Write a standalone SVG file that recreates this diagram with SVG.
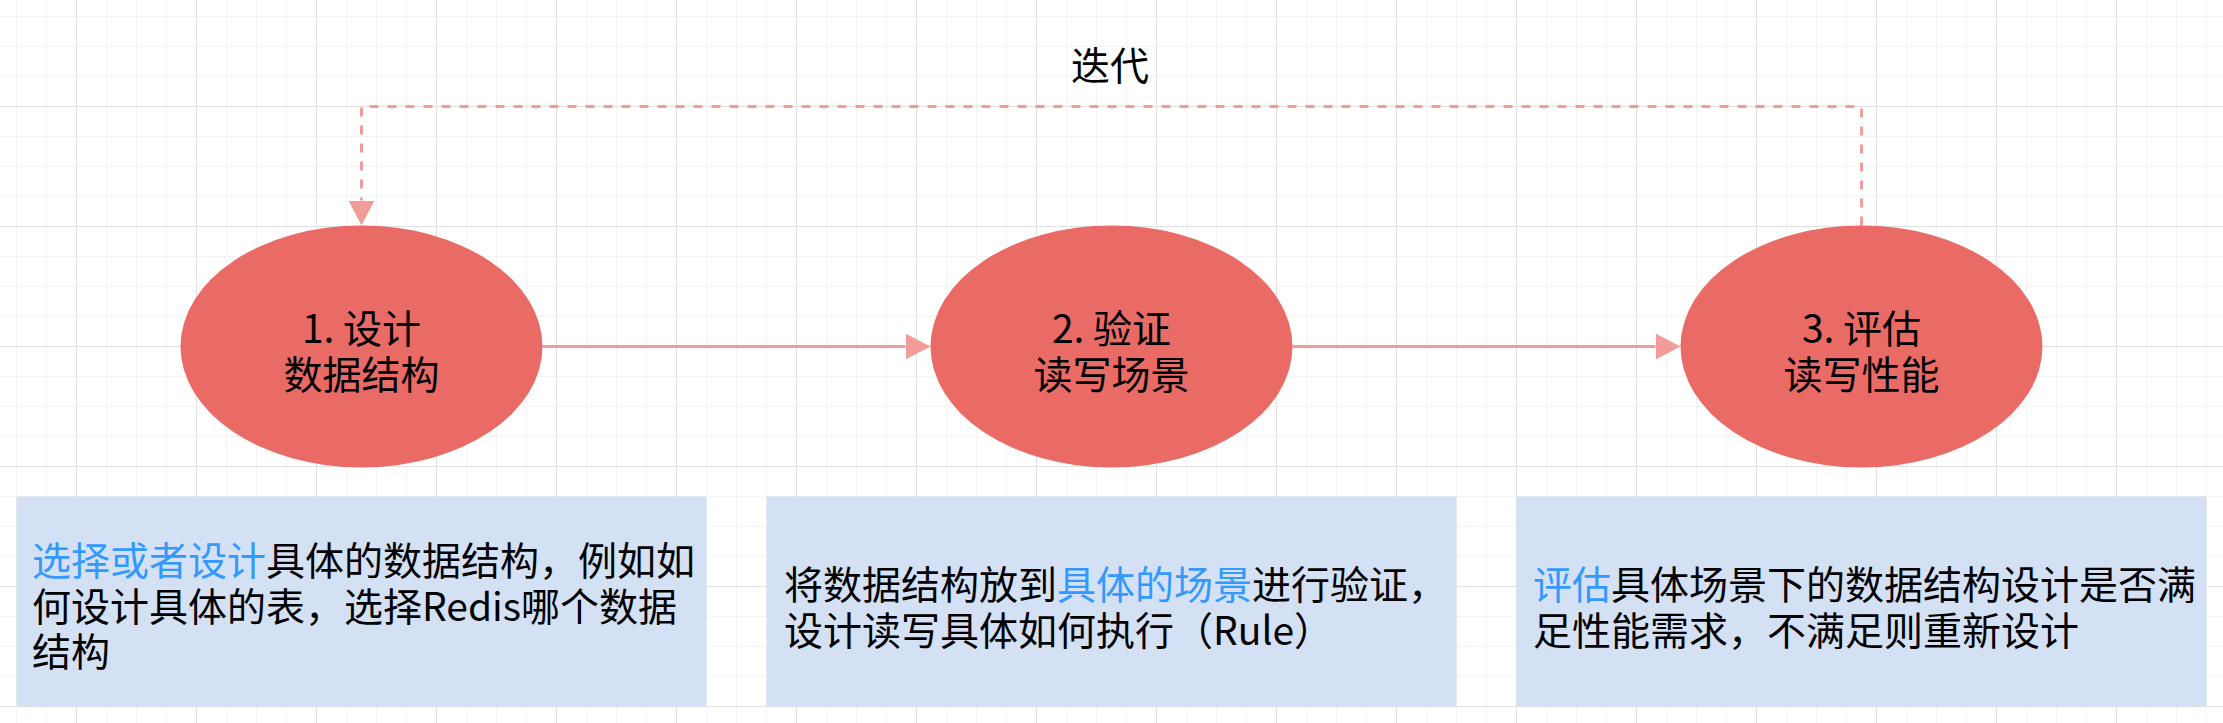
<svg xmlns="http://www.w3.org/2000/svg" width="2223" height="723" viewBox="0 0 2223 723">
  <style>
    .node { fill: #EA6B66; }
    .box { fill: #D4E1F5; }
    .t { font-family: "Microsoft YaHei", "Noto Sans CJK SC", "Noto Sans", sans-serif; font-size: 39px; fill: #000000; }
    .c { text-anchor: middle; }
    .hl { fill: #3399FF; }
    .edge { fill: none; stroke: #F19C99; stroke-width: 3; }
    .dash { stroke-dasharray: 9 9; }
  </style>
  <defs>
    <pattern id="grid" patternUnits="userSpaceOnUse" x="76" y="106" width="120" height="120">
      <rect x="30" y="0" width="1" height="120" fill="#F3F3F3"/>
      <rect x="60" y="0" width="1" height="120" fill="#F3F3F3"/>
      <rect x="90" y="0" width="1" height="120" fill="#F3F3F3"/>
      <rect x="0" y="30" width="120" height="1" fill="#F3F3F3"/>
      <rect x="0" y="60" width="120" height="1" fill="#F3F3F3"/>
      <rect x="0" y="90" width="120" height="1" fill="#F3F3F3"/>
      <rect x="0" y="0" width="1" height="120" fill="#E0E0E0"/>
      <rect x="0" y="0" width="120" height="1" fill="#E0E0E0"/>
    </pattern>
    <marker id="arrow" markerUnits="userSpaceOnUse" markerWidth="25" markerHeight="26" refX="0" refY="13" orient="auto" viewBox="0 0 25 26">
      <path d="M0,0 L25,13 L0,26 Z" fill="#F19C99"/>
    </marker>
  </defs>

  <rect x="0" y="0" width="2223" height="723" fill="#FFFFFF"/>
  <rect x="0" y="0" width="2223" height="723" fill="url(#grid)"/>

  <g id="connectors">
    <path class="edge" d="M542.5,346.5 H905.5" marker-end="url(#arrow)"/>
    <path class="edge" d="M1292.5,346.5 H1655.5" marker-end="url(#arrow)"/>
    <path class="edge dash" d="M1861.5,225.5 V106.5 H361.5 V200.5" marker-end="url(#arrow)"/>
    <text class="t c" x="1110" y="80">迭代</text>
  </g>

  <g id="node-design">
    <ellipse class="node" cx="361.5" cy="346.5" rx="181" ry="121"/>
    <text class="t c"><tspan x="361.5" y="343">1. 设计</tspan><tspan x="361.5" y="388.5">数据结构</tspan></text>
  </g>

  <g id="node-verify">
    <ellipse class="node" cx="1111.5" cy="346.5" rx="181" ry="121"/>
    <text class="t c"><tspan x="1111.5" y="343">2. 验证</tspan><tspan x="1111.5" y="388.5">读写场景</tspan></text>
  </g>

  <g id="node-evaluate">
    <ellipse class="node" cx="1861.5" cy="346.5" rx="181" ry="121"/>
    <text class="t c"><tspan x="1861.5" y="343">3. 评估</tspan><tspan x="1861.5" y="388.5">读写性能</tspan></text>
  </g>

  <g id="note-design">
    <rect class="box" x="16.5" y="496.5" width="690" height="210"/>
    <text class="t"><tspan x="32" y="575"><tspan class="hl">选择或者设计</tspan>具体的数据结构，例如如</tspan><tspan x="32" y="620.5">何设计具体的表，选择Redis哪个数据</tspan><tspan x="32" y="666">结构</tspan></text>
  </g>

  <g id="note-verify">
    <rect class="box" x="766.5" y="496.5" width="690" height="210"/>
    <text class="t"><tspan x="784" y="599">将数据结构放到<tspan class="hl">具体的场景</tspan>进行验证，</tspan><tspan x="784" y="645">设计读写具体如何执行（Rule）</tspan></text>
  </g>

  <g id="note-evaluate">
    <rect class="box" x="1516.5" y="496.5" width="690" height="210"/>
    <text class="t"><tspan x="1533" y="598.5"><tspan class="hl">评估</tspan>具体场景下的数据结构设计是否满</tspan><tspan x="1533" y="645">足性能需求，不满足则重新设计</tspan></text>
  </g>
</svg>
